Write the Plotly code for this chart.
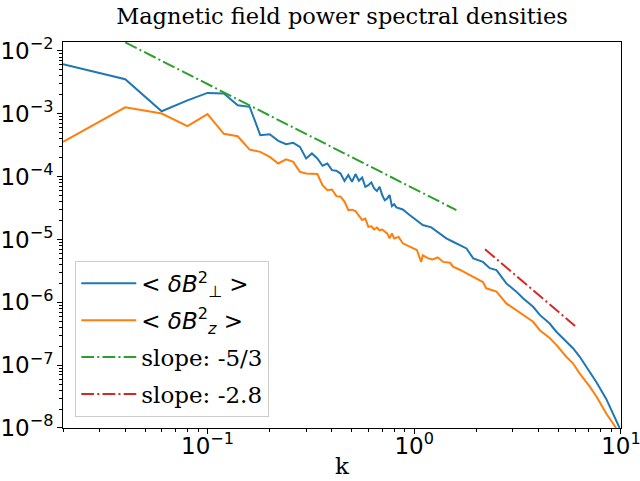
import plotly.graph_objects as go

# ---------------- data ----------------
k_perp = [0.02, 0.04, 0.06, 0.08, 0.10, 0.12, 0.14, 0.16, 0.18, 0.20,
          0.22, 0.24, 0.26, 0.28, 0.30, 0.32, 0.34, 0.36, 0.38, 0.40,
          0.42, 0.44, 0.46, 0.48, 0.50, 0.52, 0.54, 0.56, 0.58, 0.60,
          0.62, 0.64, 0.66, 0.68, 0.70, 0.72, 0.74, 0.76, 0.78, 0.80,
          0.82, 0.88, 0.95, 1.03, 1.10, 1.21, 1.33, 1.43, 1.54, 1.66,
          1.79, 1.93, 2.15, 2.32, 2.50, 2.79, 3.12, 3.36, 3.76, 4.05,
          4.52, 4.87, 5.44, 5.86, 6.31, 7.05, 7.60, 8.49, 9.15, 9.85]
b_perp = [6.15e-3, 3.55e-3, 1.10e-3, 1.64e-3, 2.15e-3, 2.10e-3, 1.37e-3, 1.29e-3, 4.57e-4, 4.74e-4,
          3.71e-4, 3.29e-4, 3.45e-4, 2.98e-4, 1.95e-4, 2.34e-4, 1.95e-4, 1.49e-4, 1.62e-4, 1.27e-4,
          1.24e-4, 1.12e-4, 8.5e-5, 1.06e-4, 8.3e-5, 1.10e-4, 8.6e-5, 9.7e-5, 6.9e-5, 7.3e-5,
          8.1e-5, 6.5e-5, 5.9e-5, 6.9e-5, 5.1e-5, 4.2e-5, 4.5e-5, 5.1e-5, 3.4e-5, 3.65e-5,
          3.24e-5, 3.0e-5, 2.45e-5, 2.04e-5, 1.7e-5, 1.56e-5, 1.25e-5, 1.04e-5, 9.2e-6, 8.1e-6,
          7.2e-6, 5.0e-6, 4.4e-6, 3.5e-6, 3.26e-6, 2.0e-6, 1.48e-6, 1.16e-6, 8.5e-7, 6.3e-7,
          4.6e-7, 3.4e-7, 2.37e-7, 1.86e-7, 1.37e-7, 7.9e-8, 5.4e-8, 2.9e-8, 1.7e-8, 1.0e-8]

k_z = [0.02, 0.04, 0.06, 0.08, 0.10, 0.12, 0.14, 0.16, 0.18, 0.20,
       0.22, 0.24, 0.26, 0.28, 0.30, 0.32, 0.34, 0.36, 0.38, 0.40,
       0.42, 0.44, 0.46, 0.48, 0.50, 0.52, 0.54, 0.56, 0.58, 0.60,
       0.62, 0.64, 0.66, 0.68, 0.70, 0.72, 0.74, 0.76, 0.78, 0.80,
       0.84, 0.88, 0.95, 1.03, 1.08, 1.10, 1.17, 1.23, 1.30, 1.38,
       1.49, 1.54, 1.66, 1.79, 1.93, 2.15, 2.23, 2.50, 2.79, 3.12,
       3.36, 3.76, 4.05, 4.52, 4.87, 5.44, 5.86, 6.31, 7.05, 7.60,
       8.49, 9.48]
b_z = [3.57e-4, 1.27e-3, 1.01e-3, 6.35e-4, 9.9e-4, 4.8e-4, 4.4e-4, 2.7e-4, 2.48e-4, 2.06e-4,
       1.62e-4, 1.88e-4, 1.72e-4, 1.19e-4, 1.12e-4, 1.12e-4, 1.10e-4, 7.3e-5, 6.1e-5, 6.25e-5,
       4.9e-5, 4.8e-5, 4.0e-5, 2.93e-5, 2.98e-5, 2.83e-5, 2.44e-5, 2.04e-5, 2.15e-5, 1.59e-5,
       1.62e-5, 1.44e-5, 1.55e-5, 1.40e-5, 1.44e-5, 1.32e-5, 1.25e-5, 1.04e-5, 1.25e-5, 1.04e-5,
       1.1e-5, 8.7e-6, 7.7e-6, 6.8e-6, 4.4e-6, 5.6e-6, 5.0e-6, 4.8e-6, 5.2e-6, 4.4e-6,
       4.26e-6, 3.7e-6, 3.3e-6, 2.9e-6, 2.55e-6, 2.1e-6, 1.67e-6, 1.48e-6, 9.6e-7, 7.5e-7,
       6.3e-7, 4.9e-7, 3.6e-7, 2.7e-7, 2.1e-7, 1.36e-7, 1.07e-7, 7.4e-8, 4.6e-8, 3.2e-8,
       1.7e-8, 1.0e-8]

slope53_k = [0.04, 1.6]
slope53_v = [1.37e-2, 2.93e-5]
slope28_k = [2.2, 6.0]
slope28_v = [7.0e-6, 4.2e-7]

x_tick_vals = [0.1, 1, 10]
x_tick_text = ["10<sup>−1</sup>", "10<sup>0</sup>", "10<sup>1</sup>"]
y_tick_vals = [1e-8, 1e-7, 1e-6, 1e-5, 1e-4, 1e-3, 1e-2]
y_tick_text = ["10<sup>−8</sup>", "10<sup>−7</sup>", "10<sup>−6</sup>", "10<sup>−5</sup>",
               "10<sup>−4</sup>", "10<sup>−3</sup>", "10<sup>−2</sup>"]

# ---------------- styling ----------------
BLUE, ORANGE, GREEN, RED = "#1f77b4", "#ff7f0e", "#2ca02c", "#d62728"
DASHDOT = "12.8px,3.2px,2px,3.2px"
SERIF = "DejaVu Serif"
SANS = "DejaVu Sans"

lab_perp = ('<span style="font-family:DejaVu Sans">&lt; <i>δB</i>'
            '<sup>2</sup><sub>⊥</sub> &gt;</span>')
lab_z = ('<span style="font-family:DejaVu Sans">&lt; <i>δB</i>'
         '<sup>2</sup><sub><i>z</i></sub> &gt;</span>')

fig = go.Figure()
fig.add_trace(go.Scatter(x=k_perp, y=b_perp, mode="lines", name=lab_perp,
                         legendgroup="a", line=dict(color=BLUE, width=2)))
fig.add_trace(go.Scatter(x=k_z, y=b_z, mode="lines", name=lab_z,
                         legendgroup="b", line=dict(color=ORANGE, width=2)))
fig.add_trace(go.Scatter(x=slope53_k, y=slope53_v, mode="lines", name="slope: -5/3",
                         legendgroup="c", line=dict(color=GREEN, width=2, dash=DASHDOT)))
fig.add_trace(go.Scatter(x=slope28_k, y=slope28_v, mode="lines", name="slope: -2.8",
                         legendgroup="d", line=dict(color=RED, width=2, dash=DASHDOT)))

x_minor = [m * 10.0 ** e for e in (-2, -1, 0) for m in range(2, 10)]
y_minor = [m * 10.0 ** e for e in range(-8, -2) for m in range(2, 10)]

axis_common = dict(
    type="log", showline=True, linecolor="black", linewidth=1, mirror=True,
    ticks="outside", ticklen=5, tickwidth=1, tickcolor="black",
    showgrid=False, zeroline=False, automargin=False, ticklabeloverflow="allow",
    tickfont=dict(family=SANS, size=23, color="black"),
)

fig.update_layout(
    width=640, height=481,
    margin=dict(l=63, r=19, t=42, b=53, autoexpand=False),
    plot_bgcolor="white", paper_bgcolor="white",
    title=dict(text="Magnetic field power spectral densities",
               font=dict(family=SERIF, size=22.5, color="black"),
               x=0.5, xref="paper", xanchor="center",
               y=1 - 16 / 481, yref="container", yanchor="middle"),
    xaxis=dict(axis_common, range=[-1.699, 1.0003],
               tickmode="array", tickvals=x_tick_vals, ticktext=x_tick_text,
               ticklabelstandoff=-8,
               minor=dict(tickmode="array", tickvals=x_minor, ticks="outside",
                          ticklen=3, tickwidth=0.8, tickcolor="black", showgrid=False),
               title=dict(text="k", font=dict(family=SERIF, size=23, color="black"),
                          standoff=0)),
    yaxis=dict(axis_common, range=[-8.0003, -1.857],
               tickmode="array", tickvals=y_tick_vals, ticktext=y_tick_text,
               ticklabelstandoff=-1,
               minor=dict(tickmode="array", tickvals=y_minor, ticks="outside",
                          ticklen=3, tickwidth=0.8, tickcolor="black", showgrid=False)),
    legend=dict(x=0.022, y=0.029, xanchor="left", yanchor="bottom",
                bgcolor="rgba(255,255,255,0.8)", bordercolor="#cccccc", borderwidth=1,
                font=dict(family=SERIF, size=23, color="black"),
                itemwidth=55, tracegroupgap=4),
    showlegend=True,
)

fig.write_html("out.html",
               config={"displayModeBar": False},
               post_script="document.body.style.margin='0';document.body.style.padding='0';")
